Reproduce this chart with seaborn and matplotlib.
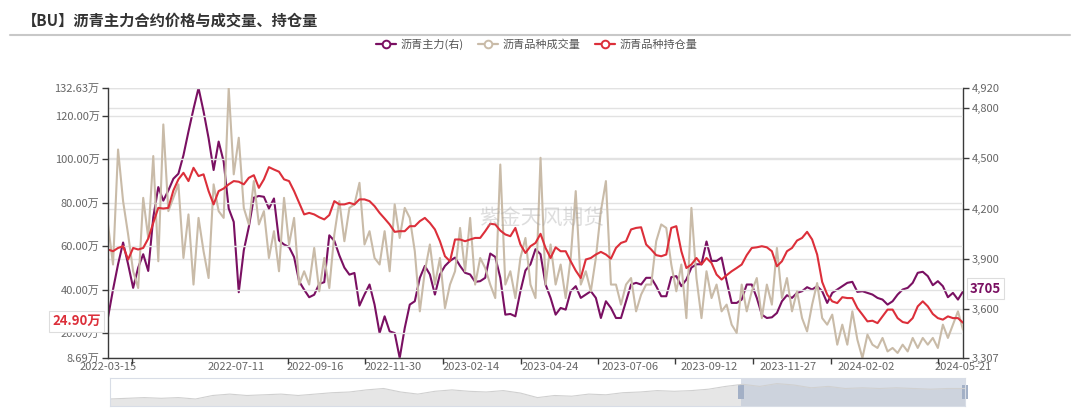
import numpy as np
import pandas as pd
import matplotlib
matplotlib.use('Agg')
import matplotlib.pyplot as plt
import seaborn as sns
from matplotlib.lines import Line2D
from matplotlib.patches import Rectangle
from matplotlib.ticker import FixedLocator

sns.set_theme(style='white')
plt.rcParams['font.family'] = ['Noto Sans CJK SC', 'DejaVu Sans']
plt.rcParams['axes.unicode_minus'] = False

# ---------------- data ----------------
title = '【BU】沥青主力合约价格与成交量、持仓量'
series_names = ['沥青主力(右)', '沥青品种成交量', '沥青品种持仓量']
watermark = '紫金天风期货'

price = [3550, 3716, 3867, 3997, 3867, 3726, 3847, 3927, 3827, 4147,
         4328, 4247, 4308, 4378, 4408, 4518, 4660, 4795, 4920, 4780,
         4620, 4430, 4600, 4480, 4200, 4120, 3700, 3950, 4090, 4265,
         4275, 4270, 4200, 4260, 4010, 3985, 3970, 3910, 3765, 3715,
         3670, 3685, 3750, 3760, 4040, 4007, 3920, 3847, 3805, 3815,
         3620, 3686, 3746, 3626, 3456, 3556, 3466, 3456, 3307, 3486,
         3626, 3646, 3786, 3857, 3806, 3686, 3806, 3857, 3887, 3907,
         3857, 3816, 3806, 3762, 3766, 3786, 3931, 3911, 3786, 3566,
         3570, 3556, 3706, 3830, 3867, 3957, 3927, 3746, 3666, 3566,
         3606, 3596, 3706, 3736, 3666, 3686, 3706, 3666, 3546, 3646,
         3606, 3546, 3546, 3646, 3746, 3756, 3746, 3786, 3786, 3736,
         3676, 3676, 3790, 3796, 3736, 3776, 3847, 3867, 3867, 4003,
         3887, 3887, 3907, 3766, 3636, 3636, 3656, 3746, 3746, 3666,
         3566, 3546, 3550, 3576, 3646, 3682, 3666, 3696, 3706, 3730,
         3716, 3736, 3706, 3636, 3696, 3716, 3736, 3756, 3762, 3702,
         3706, 3696, 3686, 3666, 3656, 3626, 3646, 3686, 3716, 3726,
         3756, 3816, 3822, 3796, 3742, 3766, 3736, 3670, 3696, 3656,
         3705]

volume = [70.0, 51.6, 104.4, 80.7, 65.4, 48.5, 40.8, 82.2, 63.8, 101.4,
          53.1, 115.9, 76.1, 82.2, 88.4, 54.6, 74.6, 42.4, 73.0, 57.7,
          45.4, 88.4, 76.1, 73.0, 132.63, 93.0, 109.8, 77.6, 70.0, 89.9,
          70.0, 76.1, 54.6, 66.9, 48.5, 82.2, 60.8, 73.0, 42.4, 48.5,
          42.4, 59.2, 39.3, 54.6, 40.8, 65.4, 80.7, 62.3, 77.6, 79.2,
          89.1, 60.8, 66.9, 54.6, 51.6, 66.9, 48.5, 79.2, 63.8, 77.6,
          73.0, 57.7, 30.1, 48.5, 60.8, 42.4, 54.6, 31.6, 42.4, 48.5,
          68.4, 48.5, 73.0, 42.4, 54.6, 50.0, 42.4, 36.2, 97.5, 42.4,
          48.5, 36.2, 54.6, 63.8, 42.4, 36.2, 100.6, 42.4, 60.8, 42.4,
          51.6, 36.2, 54.6, 85.3, 42.4, 48.5, 39.3, 54.6, 76.1, 89.9,
          42.4, 42.4, 33.2, 42.4, 45.4, 30.1, 37.8, 42.4, 42.4, 62.3,
          70.0, 68.4, 51.6, 39.3, 51.6, 27.0, 77.6, 45.4, 27.0, 48.5,
          36.2, 42.4, 30.1, 33.2, 24.0, 20.2, 42.4, 30.1, 39.3, 45.4,
          27.0, 42.4, 33.2, 59.2, 36.2, 45.4, 30.1, 39.3, 27.0, 20.9,
          33.2, 43.1, 27.0, 24.0, 28.6, 14.8, 24.0, 14.8, 30.1, 17.1,
          8.69, 19.4, 14.8, 13.3, 17.9, 11.7, 13.3, 11.0, 14.8, 11.7,
          17.9, 13.3, 17.9, 14.8, 17.9, 13.3, 24.0, 17.9, 24.0, 30.1,
          21.7]

open_interest = [58.5, 57.7, 59.2, 60.0, 53.9, 59.2, 58.5, 59.2, 63.5, 70.7,
                 77.6, 77.3, 77.6, 85.6, 90.7, 93.7, 89.9, 96.0, 92.2, 93.0,
                 85.3, 79.2, 85.3, 86.5, 88.4, 89.9, 89.6, 88.4, 91.4, 92.6,
                 86.8, 90.7, 96.3, 95.2, 94.2, 90.7, 89.9, 85.3, 79.9, 74.6,
                 75.3, 74.6, 73.3, 72.3, 74.3, 80.7, 79.2, 79.2, 79.9, 79.2,
                 81.5, 81.5, 80.7, 78.4, 75.3, 72.7, 70.0, 66.6, 66.9, 66.9,
                 69.2, 69.2, 71.5, 73.0, 70.7, 67.7, 62.3, 55.4, 53.1, 63.1,
                 63.1, 62.3, 63.1, 63.8, 63.8, 66.9, 70.3, 70.0, 67.2, 65.4,
                 64.6, 68.4, 60.8, 56.9, 60.0, 61.5, 65.7, 59.2, 54.6, 59.5,
                 57.7, 57.7, 53.1, 48.8, 45.4, 53.9, 54.6, 56.2, 57.4, 56.2,
                 54.3, 59.2, 61.5, 62.3, 67.7, 68.4, 68.7, 60.8, 58.5, 55.9,
                 55.4, 56.2, 68.4, 69.2, 57.7, 50.0, 51.6, 54.6, 51.6, 54.6,
                 52.3, 47.0, 44.7, 46.7, 48.5, 50.0, 51.6, 55.9, 59.2, 59.5,
                 60.0, 59.5, 57.7, 50.8, 53.1, 57.7, 59.2, 62.6, 63.8, 66.6,
                 63.1, 56.2, 43.6, 37.8, 34.7, 33.9, 36.6, 36.2, 36.2, 31.6,
                 28.6, 25.5, 25.8, 24.7, 27.8, 30.9, 30.9, 27.0, 25.2, 24.7,
                 27.0, 32.4, 34.7, 32.4, 28.9, 27.0, 26.3, 27.8, 27.0, 27.0,
                 24.9]

tick_labels = ['2022-03-15', '2022-07-11', '2022-09-16', '2022-11-30', '2023-02-14',
               '2023-04-24', '2023-07-06', '2023-09-12', '2023-11-27', '2024-02-02',
               '2024-05-21']
left_ticks = [8.69, 20, 40, 60, 80, 100, 120, 132.63]
right_ticks = [3307, 3600, 3900, 4200, 4500, 4800, 4920]

slider_shadow = [0.25, 0.275, 0.30, 0.275, 0.30, 0.25, 0.375, 0.425, 0.375, 0.40,
                 0.425, 0.375, 0.425, 0.475, 0.50, 0.575, 0.625, 0.50, 0.425, 0.525,
                 0.575, 0.525, 0.50, 0.55, 0.4625, 0.30, 0.375, 0.35, 0.425, 0.40,
                 0.475, 0.50, 0.55, 0.525, 0.55, 0.60, 0.70, 0.775, 0.70, 0.80,
                 0.75, 0.65, 0.70, 0.625, 0.65, 0.625, 0.65, 0.625, 0.60, 0.625,
                 0.625]

# ---------------- layout / style ----------------
W, H = 1080, 412
N = len(price)
tick_pos = [0, 25.5, 41.2, 56.7, 72.3, 88.0, 103.8, 119.5, 135.2, 150.7, N - 1]
minor_tick_pos = [4.8, 35.8, 51.1, 66.6, 82.1, 97.4, 112.7, 128.2, 143.8, 165.0]

c_price = '#7a1062'
c_vol = '#c9bba8'
c_oi = '#dc2f3a'
axis_c = '#3a3a3a'
lab_c = '#666666'
grid_c = '#e2e2e2'
LW = 1.5

fig = plt.figure(figsize=(W / 100, H / 100), dpi=100, facecolor='white')

ax = fig.add_axes([108 / W, 1 - 358 / H, 855 / W, 270 / H])
axr = ax.twinx()
axr.set_zorder(1)
ax.set_zorder(2)
ax.patch.set_visible(False)

df = pd.DataFrame({'idx': np.arange(N), 'price': price,
                   'volume': volume, 'oi': open_interest})

sns.lineplot(data=df, x='idx', y='price', ax=axr, color=c_price, lw=LW,
             legend=False)
sns.lineplot(data=df, x='idx', y='volume', ax=ax, color=c_vol, lw=LW,
             legend=False)
sns.lineplot(data=df, x='idx', y='oi', ax=ax, color=c_oi, lw=LW,
             legend=False)

ax.set_xlim(0, N - 1)
ax.set_ylim(left_ticks[0], left_ticks[-1])
axr.set_ylim(right_ticks[0], right_ticks[-1])
ax.set_xlabel('')
ax.set_ylabel('')
axr.set_ylabel('')

ax.set_yticks(left_ticks)
ax.set_yticklabels([f'{v:.2f}万' for v in left_ticks])
axr.set_yticks(right_ticks)
axr.set_yticklabels([f'{v:,}' for v in right_ticks])

ax.set_xticks(tick_pos)
ax.set_xticklabels(tick_labels)
ax.xaxis.set_minor_locator(FixedLocator(minor_tick_pos))

ax.yaxis.grid(True, color=grid_c, lw=1)
axr.yaxis.grid(True, color=grid_c, lw=1)
ax.xaxis.grid(False)
axr.xaxis.grid(False)

for a in (ax, axr):
    for s in a.spines.values():
        s.set_visible(False)
ax.spines['left'].set_visible(True)
ax.spines['bottom'].set_visible(True)
axr.spines['right'].set_visible(True)
for s in (ax.spines['left'], ax.spines['bottom'], axr.spines['right']):
    s.set_color(axis_c)
    s.set_linewidth(1)

ax.tick_params(axis='y', which='major', left=True, length=4, width=1,
               color=axis_c, labelsize=8, labelcolor=lab_c, pad=2)
axr.tick_params(axis='y', which='major', right=True, length=4, width=1,
                color=axis_c, labelsize=8, labelcolor=lab_c, pad=2)
ax.tick_params(axis='x', which='major', bottom=True, length=0,
               labelsize=8, labelcolor=lab_c, pad=3)
ax.tick_params(axis='x', which='minor', bottom=True, length=4, width=1,
               color=axis_c)

# current value labels
ax.annotate(f'{open_interest[-1]:.2f}万', xy=(0, open_interest[-1]),
            xycoords=('axes fraction', 'data'), xytext=(-5, 1),
            textcoords='offset points', ha='right', va='center',
            color=c_oi, fontsize=9.5, fontweight='bold',
            bbox=dict(boxstyle='square,pad=0.25', fc='white', ec='#dddddd', lw=0.8),
            annotation_clip=False, zorder=20)
axr.annotate(f'{price[-1]}', xy=(1, price[-1]),
             xycoords=('axes fraction', 'data'), xytext=(5, 2),
             textcoords='offset points', ha='left', va='center',
             color=c_price, fontsize=9.5, fontweight='bold',
             bbox=dict(boxstyle='square,pad=0.25', fc='white', ec='#dddddd', lw=0.8),
             annotation_clip=False, zorder=20)

# legend
handles = [Line2D([0], [0], color=c, lw=1.6, marker='o', markersize=5.5,
                  markerfacecolor='white', markeredgecolor=c, markeredgewidth=1.4)
           for c in (c_price, c_vol, c_oi)]
fig.legend(handles, series_names, loc='center', bbox_to_anchor=(537 / W, 1 - 44 / H),
           ncol=3, frameon=False, fontsize=8, handlelength=1.8, handletextpad=0.4,
           columnspacing=1.3, labelcolor='#555555')

# title and separator
fig.text(22 / W, 1 - 21 / H, title, fontsize=11, fontweight='bold', color='#333333',
         ha='left', va='center')
fig.add_artist(Line2D([10 / W, 1070 / W], [1 - 35 / H, 1 - 35 / H],
                      color='#c8c8c8', lw=1.5))

# watermark
fig.text(542 / W, 1 - 218 / H, watermark, fontsize=15, color='#a0a0a0', alpha=0.35,
         ha='center', va='center')

# data zoom slider
sax = fig.add_axes([110 / W, 1 - 406 / H, 855 / W, 28 / H])
sdf = pd.DataFrame({'k': np.arange(len(slider_shadow)), 'v': slider_shadow})
sax.fill_between(sdf['k'], 0, sdf['v'], color='#e6e6e6', lw=0)
sns.lineplot(data=sdf, x='k', y='v', ax=sax, color='#d0d0d0', lw=0.8, legend=False)
sax.set_xlim(0, len(slider_shadow) - 1)
sax.set_ylim(0, 1)
sax.set_xticks([])
sax.set_yticks([])
sax.set_xlabel('')
sax.set_ylabel('')
for s in sax.spines.values():
    s.set_color('#d8dde6')
    s.set_linewidth(0.8)
sel0 = 0.738
sax.add_patch(Rectangle((sel0, 0), 1 - sel0, 1, transform=sax.transAxes,
                        color='#b9c4d6', alpha=0.55, lw=0))
for hx in (sel0, 1.0):
    sax.add_patch(Rectangle((hx - 0.004, 0.25), 0.008, 0.5, transform=sax.transAxes,
                            color='#a3b0c6', lw=0, clip_on=False))

fig.savefig('out.png', dpi=100, facecolor='white')
